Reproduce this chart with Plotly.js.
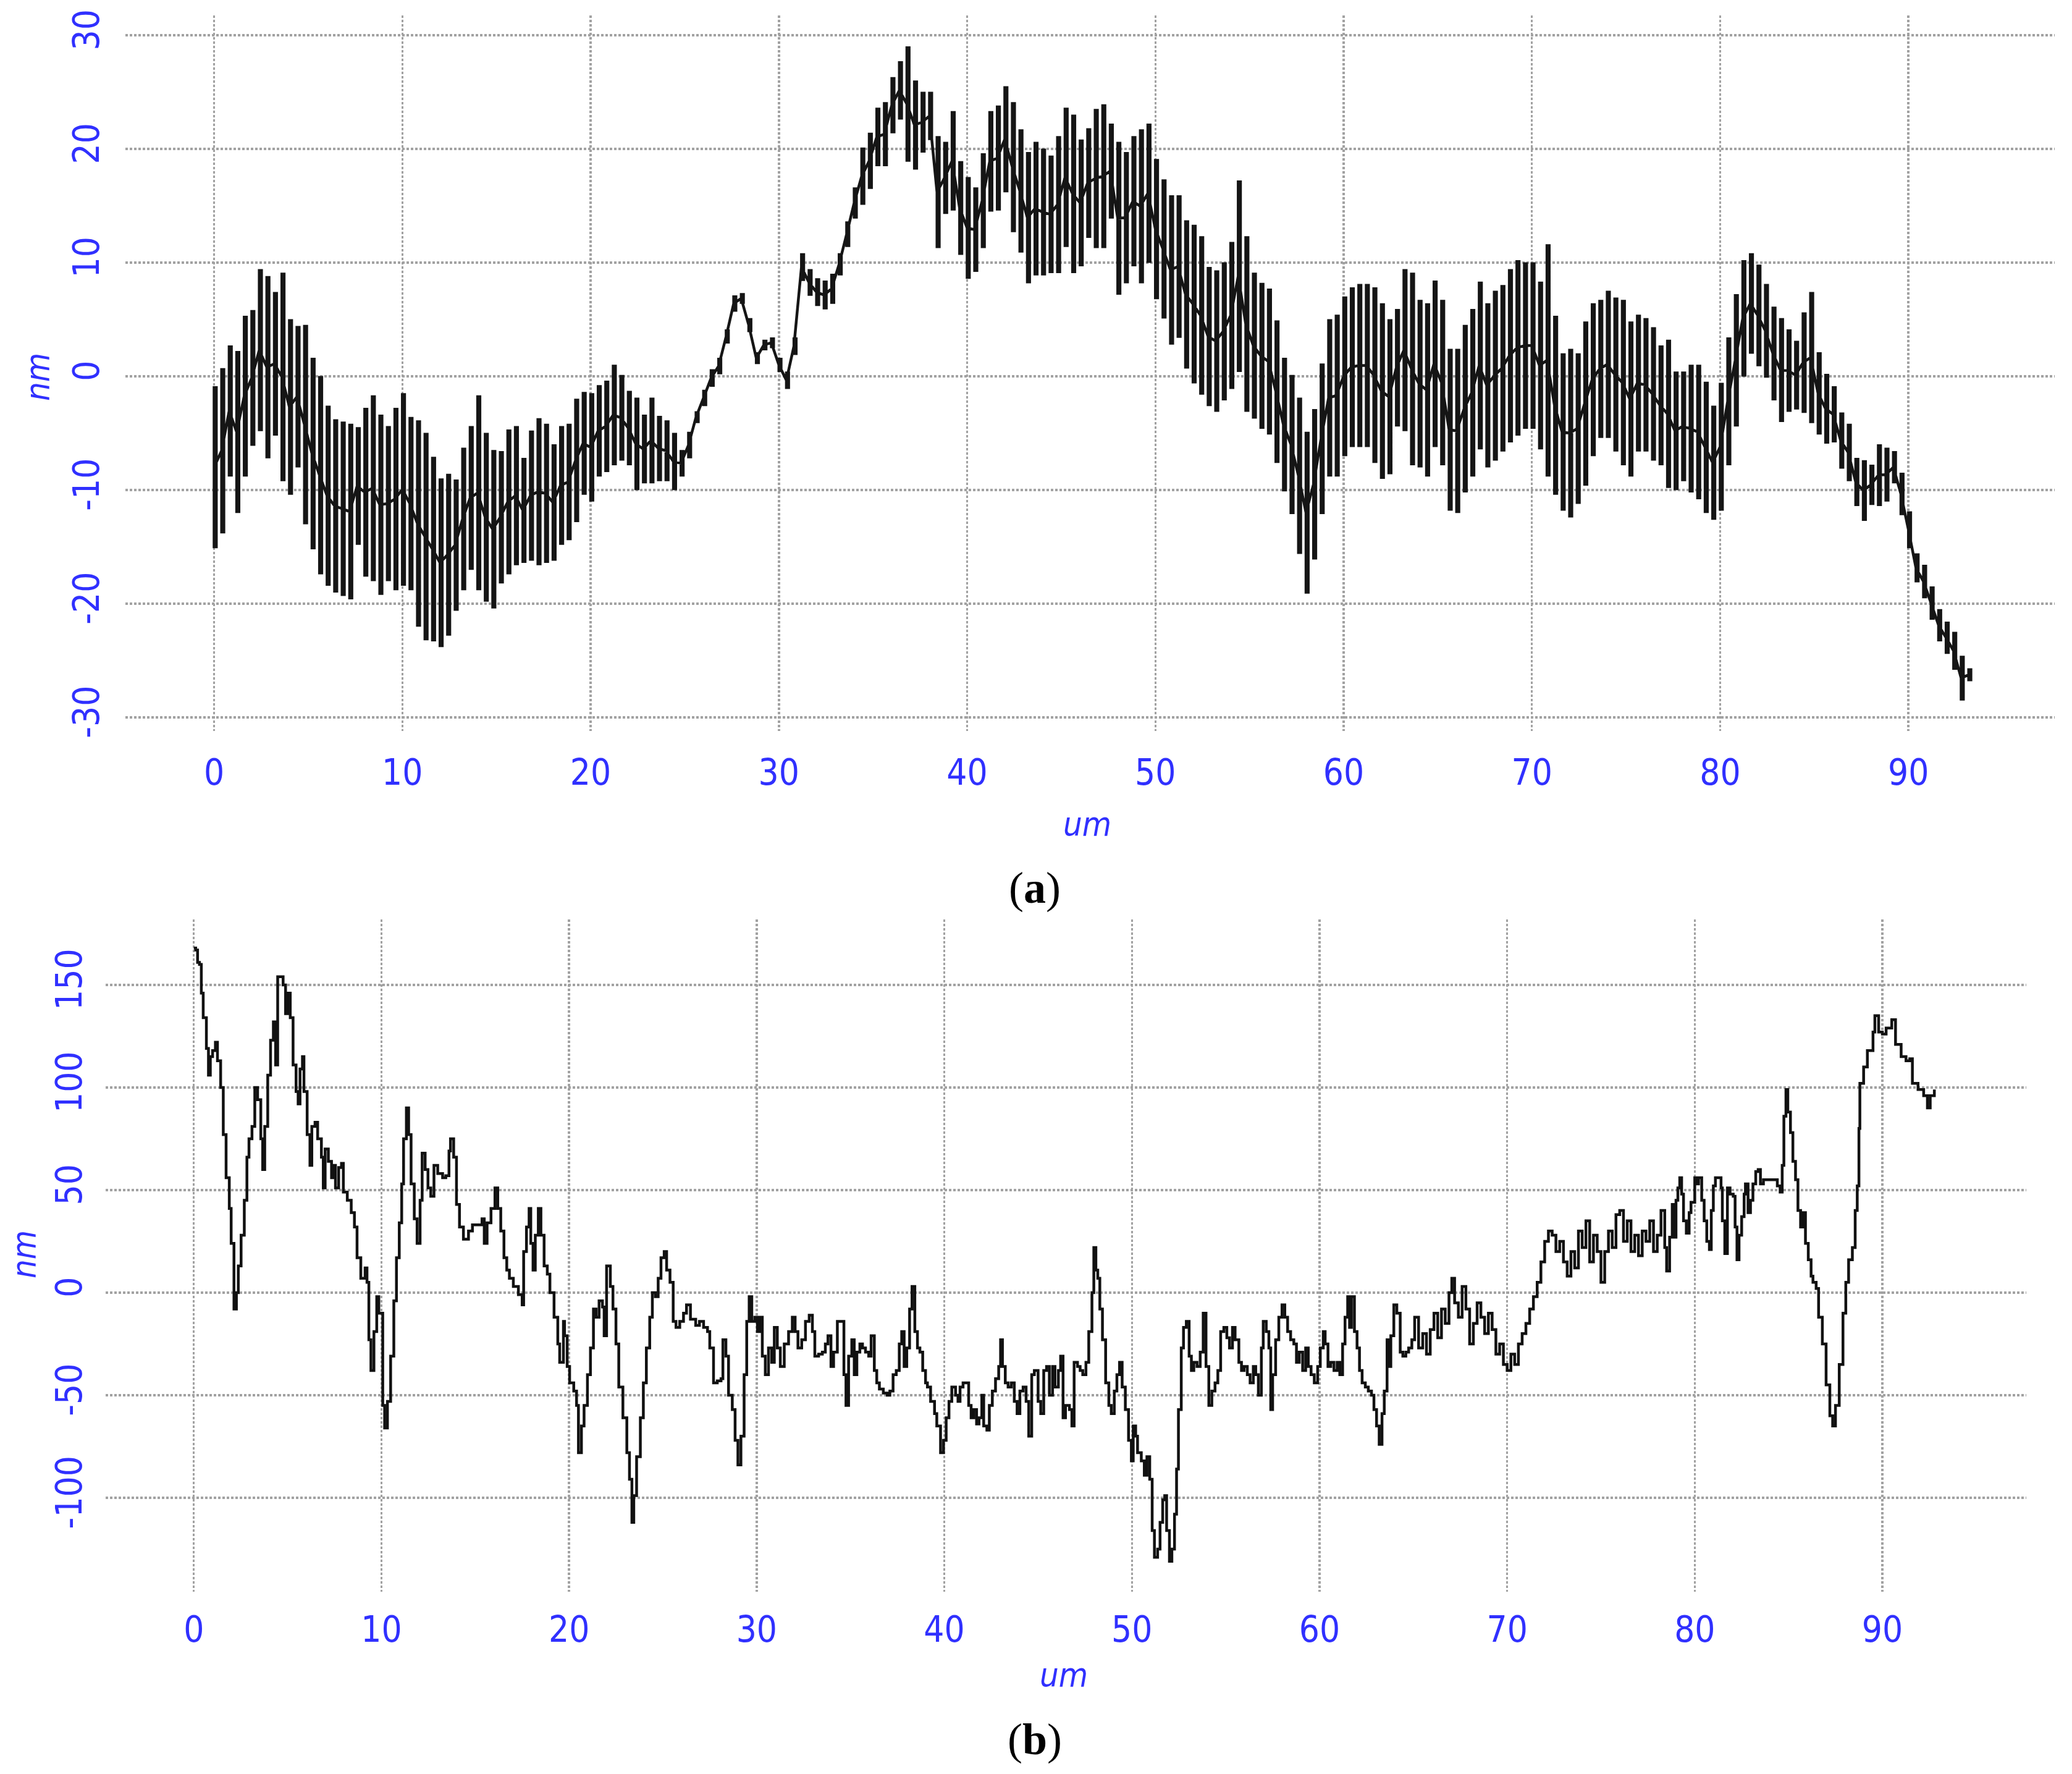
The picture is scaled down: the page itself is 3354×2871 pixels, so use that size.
<!DOCTYPE html>
<html>
<head>
<meta charset="utf-8">
<script src="https://cdn.plot.ly/plotly-3.0.1.min.js"></script>
<style>
	html, body { margin: 0; padding: 0; background: #fff; }
	#chart { width: 3354px; height: 2871px; }
</style>
</head>
<body>
<div id="chart"></div>
<script>
// (a) profile: position of each vertical stroke, its top and its bottom (nm)
const topX = [
	0.0, 0.4, 0.8, 1.2, 1.6, 2.0, 2.4, 2.8, 3.2, 3.6, 4.0, 4.4, 4.8, 5.2, 5.6, 6.0, 6.4, 6.8, 7.2, 7.6,
	8.0, 8.4, 8.8, 9.2, 9.6, 10.0, 10.4, 10.8, 11.2, 11.6, 12.0, 12.4, 12.8, 13.2, 13.6, 14.0, 14.4, 14.8, 15.2, 15.6,
	16.0, 16.4, 16.8, 17.2, 17.6, 18.0, 18.4, 18.8, 19.2, 19.6, 20.0, 20.4, 20.8, 21.2, 21.6, 22.0, 22.4, 22.8, 23.2, 23.6,
	24.0, 24.4, 24.8, 25.2, 25.6, 26.0, 26.4, 26.8, 27.2, 27.6, 28.0, 28.4, 28.8, 29.2, 29.6, 30.0, 30.4, 30.8, 31.2, 31.6,
	32.0, 32.4, 32.8, 33.2, 33.6, 34.0, 34.4, 34.8, 35.2, 35.6, 36.0, 36.4, 36.8, 37.2, 37.6, 38.0, 38.4, 38.8, 39.2, 39.6,
	40.0, 40.4, 40.8, 41.2, 41.6, 42.0, 42.4, 42.8, 43.2, 43.6, 44.0, 44.4, 44.8, 45.2, 45.6, 46.0, 46.4, 46.8, 47.2, 47.6,
	48.0, 48.4, 48.8, 49.2, 49.6, 50.0, 50.4, 50.8, 51.2, 51.6, 52.0, 52.4, 52.8, 53.2, 53.6, 54.0, 54.4, 54.8, 55.2, 55.6,
	56.0, 56.4, 56.8, 57.2, 57.6, 58.0, 58.4, 58.8, 59.2, 59.6, 60.0, 60.4, 60.8, 61.2, 61.6, 62.0, 62.4, 62.8, 63.2, 63.6,
	64.0, 64.4, 64.8, 65.2, 65.6, 66.0, 66.4, 66.8, 67.2, 67.6, 68.0, 68.4, 68.8, 69.2, 69.6, 70.0, 70.4, 70.8, 71.2, 71.6,
	72.0, 72.4, 72.8, 73.2, 73.6, 74.0, 74.4, 74.8, 75.2, 75.6, 76.0, 76.4, 76.8, 77.2, 77.6, 78.0, 78.4, 78.8, 79.2, 79.6,
	80.0, 80.4, 80.8, 81.2, 81.6, 82.0, 82.4, 82.8, 83.2, 83.6, 84.0, 84.4, 84.8, 85.2, 85.6, 86.0, 86.4, 86.8, 87.2, 87.6,
	88.0, 88.4, 88.8, 89.2, 89.6, 90.0, 90.4, 90.8, 91.2, 91.6, 92.0, 92.4, 92.8, 93.2
];
const topHi = [
	-1, 0.6, 2.6, 2.1, 5.2, 5.7, 9.3, 8.7, 7.3, 9.0, 4.9, 4.3, 4.4, 1.5, -0.1, -2.7, -3.9, -4.1, -4.3, -4.6,
	-2.9, -1.8, -3.5, -4.5, -2.9, -1.6, -3.7, -4.0, -5.1, -7.2, -9.1, -8.7, -9.2, -6.4, -4.5, -1.8, -5.1, -6.6, -6.7, -4.8,
	-4.5, -7.3, -4.9, -3.8, -4.3, -6.1, -4.5, -4.3, -2.1, -1.5, -1.6, -0.9, -0.5, 0.9, 0, -1.4, -2.0, -3.5, -2.0, -3.6,
	-4.0, -5.1, -6.6, -5.0, -3.2, -1.3, 0.5, 1.5, 4.0, 7.0, 7.2, 5.0, 2.0, 3.1, 3.3, 1.5, 0.3, 3.3, 10.7, 9.3,
	8.5, 8.3, 8.9, 10.7, 13.5, 16.5, 20.0, 21.3, 23.5, 24.0, 26.2, 27.6, 28.9, 25.9, 24.9, 24.9, 21.0, 20.5, 23.2, 18.8,
	17.4, 16.5, 19.5, 23.2, 23.7, 25.4, 24.0, 21.6, 19.6, 20.5, 19.9, 19.3, 21.0, 23.5, 22.9, 20.7, 21.7, 23.4, 23.8, 22.1,
	20.5, 19.6, 21.0, 21.6, 22.1, 19.0, 17.2, 15.8, 15.8, 13.6, 13.2, 12.2, 9.5, 9.2, 9.9, 11.7, 17.1, 12.2, 9.0, 8.1,
	7.6, 4.8, 1.5, 0, -2, -5, -3, 1, 4.9, 5.3, 6.9, 7.7, 8.0, 8.0, 7.7, 6.3, 4.9, 5.8, 9.3, 9.0,
	6.6, 6.3, 8.3, 6.6, 2.3, 2.3, 4.4, 5.8, 8.2, 6.3, 7.4, 7.9, 9.3, 10.1, 9.9, 9.9, 8.2, 11.5, 5.2, 1.9,
	2.3, 1.9, 4.7, 6.3, 6.6, 7.4, 6.8, 6.6, 4.7, 5.3, 5.0, 4.2, 2.6, 3.1, 0.3, 0.3, 0.9, 0.9, -0.6, -2.7,
	-0.7, 3.3, 7.1, 10.1, 10.7, 9.7, 8.0, 6.0, 5.0, 4.0, 3.0, 5.5, 7.3, 2.0, 0.1, -1.0, -3.3, -4.3, -7.3, -7.5,
	-7.9, -6.1, -6.4, -6.7, -8.6, -12.0, -15.7, -16.7, -18.6, -20.6, -21.7, -22.6, -24.7, -25.8
];
const topLo = [
	-15, -13.7, -8.7, -11.9, -8.7, -6, -4.7, -7.1, -5.1, -9.1, -10.3, -7.9, -12.9, -15.1, -17.3, -18.3, -18.9, -19.2, -19.5, -14.7,
	-17.5, -17.9, -19.1, -17.9, -18.7, -18.3, -18.7, -21.9, -23.1, -23.2, -23.7, -22.7, -20.5, -18.7, -16.9, -18.7, -19.7, -20.3, -18.1, -17.3,
	-16.5, -16.3, -16.1, -16.5, -16.3, -16.1, -14.7, -14.3, -12.7, -10.3, -10.9, -8.7, -8.3, -7.7, -7.3, -7.7, -9.9, -9.3, -9.3, -9.1,
	-9.1, -9.9, -8.7, -7.1, -4.0, -2.5, -0.8, 0.3, 3.0, 5.8, 6.5, 4.0, 1.2, 2.4, 2.6, 0.5, -1.0, 2.0, 8.5, 7.2,
	6.3, 6.0, 6.5, 9.0, 11.5, 14.0, 15.2, 16.6, 18.6, 18.6, 21.5, 22.7, 19.0, 18.3, 19.8, 20.9, 11.4, 14.4, 14.7, 10.8,
	8.7, 9.3, 11.4, 14.6, 14.7, 16.3, 12.8, 11.0, 8.3, 9.0, 9.0, 9.2, 9.2, 11.5, 9.2, 9.8, 12.3, 11.4, 11.4, 14.0,
	7.3, 8.3, 9.8, 8.3, 10.1, 6.9, 5.2, 2.9, 3.5, 0.8, -0.5, -1.5, -2.5, -3.0, -2.0, -1.0, 0.5, -3.0, -3.6, -4.5,
	-5.0, -7.5, -10, -12, -15.5, -19, -16, -12, -8.7, -8.7, -6.9, -6.1, -6.1, -6.1, -7.5, -8.9, -8.5, -4.3, -4.7, -7.7,
	-7.9, -8.7, -6.1, -7.7, -11.7, -11.9, -10.1, -8.7, -6.3, -7.9, -7.3, -6.5, -5.7, -5.1, -4.5, -4.5, -6.3, -8.7, -10.3, -11.7,
	-12.3, -11.1, -9.5, -6.9, -5.3, -5.3, -6.5, -7.7, -8.7, -6.5, -6.5, -7.3, -7.7, -9.7, -9.9, -9.1, -10.1, -10.7, -11.9, -12.5,
	-11.7, -7.7, -4.3, 0.1, 2.1, 1.0, 0, -2, -3.9, -3.0, -2.8, -3.1, -4.0, -5.0, -5.8, -5.7, -8.0, -9.1, -11.3, -12.6,
	-11.2, -11.3, -10.9, -9.3, -12.1, -15.0, -18.0, -19.4, -21.3, -23.2, -24.3, -25.7, -28.4, -26.7
];

// (b) profile (um, nm)
const botX = [
	0, 0.1, 0.2, 0.3, 0.4, 0.5, 0.67, 0.78, 0.88, 1.0, 1.15, 1.26, 1.43, 1.57, 1.72, 1.89, 1.99, 2.14, 2.27, 2.37,
	2.52, 2.69, 2.83, 2.94, 3.1, 3.25, 3.4, 3.57, 3.67, 3.78, 3.94, 4.09, 4.24, 4.36, 4.47, 4.62, 4.76, 4.89, 5.0, 5.14,
	5.29, 5.45, 5.56, 5.66, 5.79, 5.87, 6.04, 6.19, 6.29, 6.46, 6.6, 6.8, 6.9, 7.0, 7.17, 7.34, 7.45, 7.55, 7.72, 7.87,
	7.97, 8.18, 8.39, 8.56, 8.7, 8.9, 9.13, 9.23, 9.33, 9.44, 9.6, 9.75, 9.86, 10.07, 10.17, 10.32, 10.49, 10.66, 10.8, 10.95,
	11.08, 11.18, 11.33, 11.45, 11.58, 11.75, 11.9, 12.06, 12.17, 12.33, 12.48, 12.63, 12.8, 13.0, 13.26, 13.43, 13.6, 13.68, 13.85, 14.0,
	14.16, 14.37, 14.64, 14.85, 15.15, 15.36, 15.48, 15.63, 15.84, 16.05, 16.2, 16.36, 16.53, 16.68, 16.82, 17.03, 17.3, 17.5, 17.58, 17.73,
	17.87, 17.96, 18.08, 18.2, 18.36, 18.5, 18.67, 18.84, 18.98, 19.2, 19.4, 19.5, 19.7, 19.76, 19.9, 20.03, 20.25, 20.4, 20.5, 20.66,
	20.8, 20.98, 21.14, 21.3, 21.44, 21.6, 21.78, 21.87, 22.0, 22.2, 22.34, 22.5, 22.65, 22.87, 23.08, 23.22, 23.35, 23.45, 23.6, 23.8,
	23.96, 24.12, 24.3, 24.44, 24.6, 24.75, 24.9, 25.07, 25.2, 25.38, 25.55, 25.7, 25.9, 26.1, 26.26, 26.47, 26.75, 26.95, 27.17, 27.38,
	27.5, 27.7, 27.9, 28.1, 28.2, 28.36, 28.5, 28.7, 28.85, 29.0, 29.16, 29.33, 29.47, 29.6, 29.74, 29.9, 30.04, 30.16, 30.3, 30.46,
	30.63, 30.8, 30.94, 31.1, 31.26, 31.47, 31.7, 31.9, 32.05, 32.2, 32.4, 32.6, 32.8, 32.97, 33.1, 33.3, 33.5, 33.66, 33.8, 33.96,
	34.1, 34.3, 34.5, 34.65, 34.76, 34.9, 35.07, 35.2, 35.34, 35.5, 35.64, 35.8, 35.97, 36.1, 36.27, 36.4, 36.54, 36.75, 36.96, 37.1,
	37.27, 37.44, 37.6, 37.73, 37.86, 38.0, 38.15, 38.28, 38.43, 38.57, 38.7, 38.85, 39.0, 39.1, 39.27, 39.48, 39.6, 39.8, 39.96, 40.1,
	40.25, 40.4, 40.6, 40.73, 40.84, 41.0, 41.15, 41.3, 41.43, 41.57, 41.72, 41.85, 42.0, 42.1, 42.27, 42.4, 42.56, 42.73, 42.9, 43.0,
	43.1, 43.25, 43.4, 43.57, 43.73, 43.88, 44.03, 44.2, 44.36, 44.5, 44.66, 44.8, 45.0, 45.14, 45.3, 45.45, 45.6, 45.77, 45.9, 46.08,
	46.2, 46.33, 46.46, 46.67, 46.8, 46.92, 47.1, 47.24, 47.38, 47.55, 47.7, 47.87, 47.97, 48.08, 48.18, 48.29, 48.43, 48.6, 48.77, 48.9,
	49.06, 49.2, 49.34, 49.48, 49.65, 49.82, 49.97, 50.07, 50.2, 50.3, 50.5, 50.66, 50.8, 50.95, 51.08, 51.2, 51.37, 51.5, 51.64, 51.75,
	51.85, 52.0, 52.13, 52.27, 52.38, 52.48, 52.63, 52.75, 52.9, 53.05, 53.17, 53.3, 53.47, 53.64, 53.8, 53.95, 54.1, 54.26, 54.43, 54.58,
	54.73, 54.9, 55.06, 55.2, 55.36, 55.5, 55.7, 55.84, 55.98, 56.15, 56.3, 56.47, 56.6, 56.74, 56.9, 57.0, 57.16, 57.3, 57.4, 57.5,
	57.66, 57.83, 58.0, 58.15, 58.3, 58.46, 58.63, 58.77, 58.92, 59.1, 59.26, 59.4, 59.55, 59.72, 59.9, 60.04, 60.2, 60.3, 60.45, 60.6,
	60.77, 60.94, 61.08, 61.23, 61.36, 61.5, 61.6, 61.7, 61.86, 62.0, 62.13, 62.27, 62.44, 62.6, 62.77, 62.9, 63.04, 63.18, 63.33, 63.45,
	63.6, 63.7, 63.8, 63.96, 64.12, 64.3, 64.44, 64.6, 64.75, 64.92, 65.07, 65.28, 65.5, 65.7, 65.9, 66.1, 66.3, 66.5, 66.7, 66.9,
	67.05, 67.2, 67.4, 67.6, 67.8, 68.0, 68.2, 68.4, 68.6, 68.8, 69.0, 69.2, 69.4, 69.6, 69.8, 70.0, 70.2, 70.4, 70.6, 70.8,
	71.0, 71.2, 71.4, 71.6, 71.8, 72.0, 72.2, 72.4, 72.6, 72.8, 73.0, 73.2, 73.4, 73.6, 73.8, 74.0, 74.2, 74.4, 74.6, 74.8,
	75.0, 75.2, 75.4, 75.6, 75.8, 76.0, 76.2, 76.4, 76.6, 76.8, 77.0, 77.2, 77.4, 77.6, 77.8, 78.0, 78.2, 78.4, 78.5, 78.66,
	78.8, 78.9, 79.0, 79.1, 79.2, 79.3, 79.4, 79.55, 79.7, 79.8, 80.0, 80.1, 80.2, 80.37, 80.5, 80.64, 80.78, 80.88, 80.99, 81.1,
	81.26, 81.4, 81.47, 81.6, 81.74, 81.88, 82.05, 82.15, 82.25, 82.36, 82.5, 82.63, 82.7, 82.84, 82.97, 83.1, 83.25, 83.38, 83.5, 83.66,
	83.9, 84.2, 84.4, 84.55, 84.66, 84.75, 84.86, 84.96, 85.1, 85.23, 85.37, 85.5, 85.64, 85.78, 85.9, 86.05, 86.2, 86.3, 86.47, 86.6,
	86.8, 87.0, 87.2, 87.35, 87.5, 87.7, 87.9, 88.05, 88.2, 88.4, 88.55, 88.66, 88.75, 88.8, 89.0, 89.2, 89.5, 89.6, 89.8, 90.0,
	90.2, 90.5, 90.7, 91.0, 91.26, 91.46, 91.6, 91.9, 92.1, 92.2, 92.4, 92.55, 92.77
];
const botY = [
	168, 167, 161, 160, 146, 134, 119, 106, 115, 118, 122, 113, 100, 77, 56, 41, 24, -8, 0, 13,
	28, 45, 66, 75, 81, 100, 94, 75, 60, 81, 106, 123, 132, 111, 154, 154, 150, 136, 146, 134,
	111, 98, 92, 109, 115, 98, 77, 62, 81, 83, 75, 66, 51, 70, 64, 56, 62, 51, 61, 63,
	49, 45, 39, 32, 17, 7, 12, 5, -23, -38, -19, -2, -10, -55, -66, -53, -31, -4, 17, 34,
	53, 75, 90, 77, 53, 36, 24, 45, 68, 60, 51, 47, 62, 58, 56, 57, 69, 75, 66, 43,
	32, 26, 30, 33, 33, 36, 24, 34, 41, 51, 41, 30, 17, 11, 7, 3, -1, -6, 20, 32,
	41, 24, 11, 28, 41, 28, 13, 9, 0, -12, -25, -34, -14, -21, -36, -44, -48, -55, -78, -65,
	-55, -40, -27, -8, -12, -4, -7, -21, 13, 3, -8, -25, -46, -61, -78, -91, -112, -99, -80, -61,
	-44, -27, -12, 0, -2, 7, 17, 20, 11, 5, -14, -17, -14, -10, -6, -13, -16, -14, -17, -19,
	-27, -44, -43, -42, -23, -31, -50, -57, -72, -84, -70, -40, -14, -2, -14, -12, -19, -12, -31, -40,
	-27, -34, -17, -27, -36, -25, -19, -12, -19, -27, -23, -14, -11, -19, -31, -30, -29, -25, -21, -36,
	-29, -14, -14, -40, -55, -31, -23, -40, -29, -25, -27, -29, -31, -21, -38, -44, -47, -49, -50, -48,
	-40, -38, -25, -19, -36, -27, -8, 3, -19, -27, -29, -38, -44, -46, -53, -59, -65, -78, -72, -61,
	-53, -46, -50, -53, -46, -44, -44, -55, -61, -57, -64, -61, -50, -65, -67, -55, -48, -42, -36, -23,
	-36, -44, -46, -44, -53, -59, -48, -46, -53, -70, -40, -38, -53, -59, -38, -36, -50, -36, -46, -38,
	-31, -61, -55, -57, -65, -34, -36, -38, -40, -34, -19, 0, 22, 11, 7, -8, -23, -44, -55, -59,
	-48, -40, -34, -46, -57, -72, -82, -65, -70, -78, -82, -89, -80, -91, -116, -129, -125, -112, -101, -99,
	-116, -131, -125, -108, -86, -57, -27, -17, -14, -31, -38, -34, -36, -29, -10, -36, -55, -48, -44, -38,
	-19, -17, -22, -27, -17, -23, -34, -38, -36, -40, -44, -36, -40, -50, -27, -14, -19, -27, -57, -40,
	-23, -12, -6, -12, -19, -23, -25, -34, -29, -38, -27, -36, -40, -44, -36, -27, -19, -25, -36, -34,
	-38, -34, -40, -25, -12, -2, -17, -2, -19, -27, -38, -44, -46, -48, -50, -57, -65, -74, -59, -48,
	-23, -36, -21, -6, -10, -29, -31, -29, -27, -23, -12, -27, -20, -30, -18, -10, -22, -8, -15, 0,
	7, -5, -12, 3, -8, -25, -15, -5, -12, -20, -10, -18, -30, -25, -35, -38, -30, -35, -25, -20,
	-15, -8, -2, 5, 15, 25, 30, 28, 20, 25, 15, 8, 20, 12, 30, 22, 35, 15, 28, 20,
	5, 20, 30, 22, 38, 40, 25, 35, 20, 28, 18, 30, 25, 35, 20, 28, 40, 22, 10.5, 27,
	43, 27, 45, 51, 56, 48, 35, 29, 39, 44, 56, 53, 56, 45, 35, 25, 21, 40, 52, 56,
	56, 51, 35, 19, 51, 48, 47, 32, 16, 28, 37, 48, 53, 39, 45, 53, 59, 60, 53, 55,
	55, 55, 52, 49, 62, 86, 99, 88, 78, 64, 55, 40, 32, 39, 24, 16, 8, 5, 2, -12,
	-25, -45, -60, -65, -55, -35, -10, 5, 16, 22, 40, 52, 80, 102, 110, 118, 127, 135, 127, 126,
	129, 133, 121, 115, 113, 114, 102, 99, 99, 96, 90, 96, 99
];

const xTicks = [0, 10, 20, 30, 40, 50, 60, 70, 80, 90];
const xLabels = ['0', '10', '20', '30', '40', '50', '60', '70', '80', '90'];
const topYTicks = [-30, -20, -10, 0, 10, 20, 30];
const topYLabels = ['-30', '-20', '-10', '0', '10', '20', '30'];
const botYTicks = [-100, -50, 0, 50, 100, 150];
const botYLabels = ['-100', '-50', '0', '50', '100', '150'];

const W = 3354, H = 2871;
const tickBlue = '#3030ff';
const sansFamily = 'DejaVu Sans Condensed, Liberation Sans, sans-serif';
const tickFont = {family: sansFamily, size: 58, color: tickBlue};

// each stroke: up from the centre to its top, across, down to its bottom, back to the centre
const strokeGap = 0.12;
const topLineX = [];
const topLineY = [];
topX.forEach((x, i) => {
	const mid = (topHi[i] + topLo[i]) / 2;
	topLineX.push(x, x, x + strokeGap, x + strokeGap, x, x);
	topLineY.push(mid, topHi[i], topHi[i], topLo[i], topLo[i], mid);
});

function gridAxis(extra) {
	return Object.assign({
		showgrid: true,
		gridcolor: '#a2a2a2',
		gridwidth: 3.5,
		griddash: 'dot',
		zeroline: false,
		showline: false,
		ticks: '',
		tickmode: 'array',
		tickfont: tickFont,
		fixedrange: true
	}, extra);
}

const data = [
	{
		x: topLineX, y: topLineY, xaxis: 'x', yaxis: 'y',
		type: 'scatter', mode: 'lines',
		line: {color: '#151515', width: 4.5},
		hoverinfo: 'skip'
	},
	{
		x: botX, y: botY, xaxis: 'x2', yaxis: 'y2',
		type: 'scatter', mode: 'lines',
		line: {color: '#111', width: 4.5, shape: 'hv'},
		hoverinfo: 'skip'
	}
];

function note(text, x, y, opts) {
	return Object.assign({
		text: text, xref: 'paper', yref: 'paper',
		x: x / W, y: 1 - y / H,
		xanchor: 'center', yanchor: 'middle', showarrow: false
	}, opts);
}

const axisTitleFont = {family: sansFamily, size: 54, color: tickBlue};
const captionFont = {family: 'Liberation Serif, serif', size: 72, color: '#000'};

const layout = {
	width: W,
	height: H,
	margin: {l: 0, r: 0, t: 0, b: 0},
	paper_bgcolor: '#fff',
	plot_bgcolor: '#fff',
	showlegend: false,
	xaxis: gridAxis({
		domain: [203 / W, 3326 / W], anchor: 'y',
		range: [-4.71, 97.77], tickvals: xTicks, ticktext: xLabels, ticklabelstandoff: 28
	}),
	yaxis: gridAxis({
		domain: [1 - 1183 / H, 1 - 25 / H], anchor: 'x',
		range: [-31.2, 31.74], tickvals: topYTicks, ticktext: topYLabels, tickangle: -90, ticklabelstandoff: 30
	}),
	xaxis2: gridAxis({
		domain: [171 / W, 3280 / W], anchor: 'y2',
		range: [-4.70, 97.67], tickvals: xTicks, ticktext: xLabels, ticklabelstandoff: 22
	}),
	yaxis2: gridAxis({
		domain: [1 - 2576 / H, 1 - 1488 / H], anchor: 'x2',
		range: [-145.8, 181.9], tickvals: botYTicks, ticktext: botYLabels, tickangle: -90, ticklabelstandoff: 26
	}),
	annotations: [
		note('<i>nm</i>', 60, 610, {textangle: -90, font: axisTitleFont}),
		note('<i>um</i>', 1760, 1333, {font: axisTitleFont}),
		note('(<b>a</b>)', 1675, 1437, {font: captionFont}),
		note('<i>nm</i>', 38, 2030, {textangle: -90, font: axisTitleFont}),
		note('<i>um</i>', 1722, 2710, {font: axisTitleFont}),
		note('(<b>b</b>)', 1675, 2815, {font: captionFont})
	]
};

Plotly.newPlot('chart', data, layout, {staticPlot: true});
</script>
</body>
</html>
